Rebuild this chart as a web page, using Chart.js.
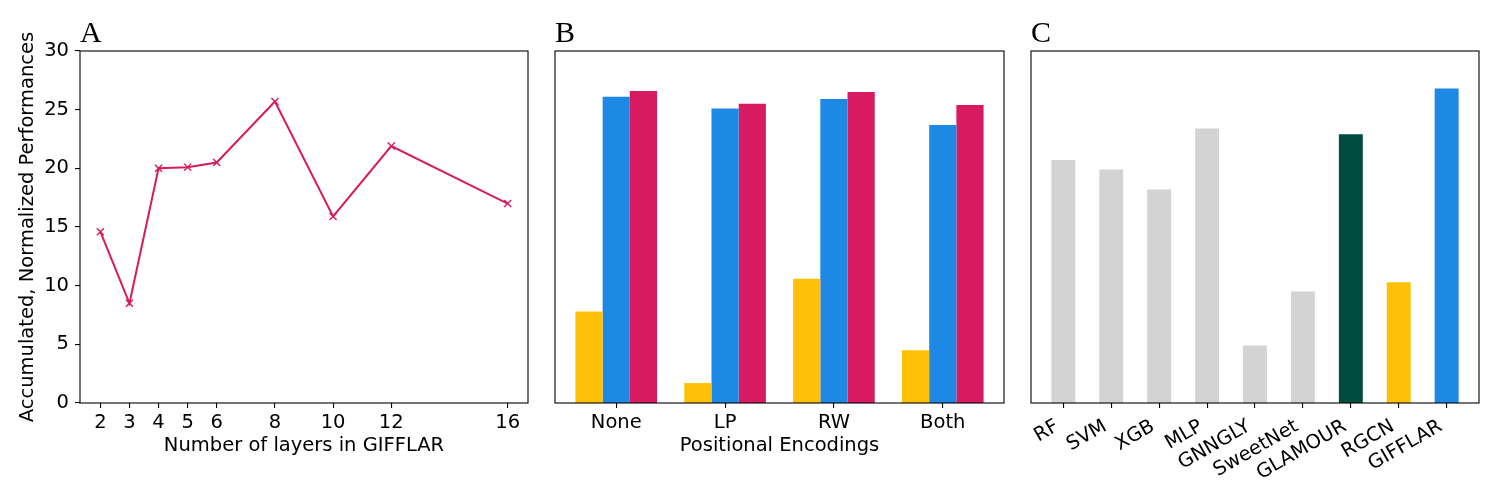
<!DOCTYPE html>
<html>
<head>
<meta charset="utf-8">
<script src="https://cdn.jsdelivr.net/npm/chart.js@4.4.1/dist/chart.umd.min.js"></script>
<style>
  html, body { margin: 0; padding: 0; background: #fff; }
  #wrap { position: relative; width: 1500px; height: 500px; }
  #wrap canvas { position: absolute; left: 0; top: 0; }
</style>
</head>
<body>
<div id="wrap">
  <canvas id="chartA" width="1500" height="500"></canvas>
  <canvas id="chartB" width="1500" height="500"></canvas>
  <canvas id="chartC" width="1500" height="500"></canvas>
</div>
<script>
// Panel A: number of layers
const layers = [2, 3, 4, 5, 6, 8, 10, 12, 16];
const layerScores = [14.6, 8.5, 20.0, 20.1, 20.5, 25.7, 15.9, 21.9, 17.0];

// Panel B: positional encodings
const encodings = ['None', 'LP', 'RW', 'Both'];
const encSeries1 = [7.8, 1.7, 10.6, 4.5];
const encSeries2 = [26.1, 25.1, 25.9, 23.7];
const encSeries3 = [26.6, 25.5, 26.5, 25.4];

// Panel C: models
const models = ['RF', 'SVM', 'XGB', 'MLP', 'GNNGLY', 'SweetNet', 'GLAMOUR', 'RGCN', 'GIFFLAR'];
const modelScores = [20.7, 19.9, 18.2, 23.4, 4.9, 9.5, 22.9, 10.3, 26.8];

const yTicks = [0, 5, 10, 15, 20, 25, 30];

const RED = '#D81B60', BLUE = '#1E88E5', YELLOW = '#FFC107', GREEN = '#004D40', GREY = '#D3D3D3';
const modelColors = [GREY, GREY, GREY, GREY, GREY, GREY, GREEN, YELLOW, BLUE];

Chart.defaults.font.family = "'DejaVu Sans', sans-serif";
Chart.defaults.font.size = 19.5;
Chart.defaults.color = '#000';
Chart.defaults.animation = false;

// frame around the plot area + panel letter
function framePlugin(letter) {
    return {
        id: 'frame' + letter,
        afterDraw(chart) {
            const a = chart.chartArea;
            const ctx = chart.ctx;
            ctx.save();
            ctx.strokeStyle = '#000';
            ctx.lineWidth = 1.1;
            ctx.strokeRect(a.left, a.top, a.right - a.left, a.bottom - a.top);
            ctx.font = "30px 'Liberation Serif', serif";
            ctx.fillStyle = '#000';
            ctx.textBaseline = 'alphabetic';
            ctx.fillText(letter, a.left, 42);
            ctx.restore();
        }
    };
}

const tickGrid = { offset: false, drawOnChartArea: false, drawTicks: true, tickLength: 5, color: '#000', lineWidth: 1.1 };

function fixedHeight(h) { return function (scale) { scale.height = h; }; }

// A
new Chart(document.getElementById('chartA'), {
    type: 'line',
    data: {
        datasets: [{
            data: layers.map((x, i) => ({ x: x, y: layerScores[i] })),
            borderColor: RED,
            backgroundColor: RED,
            borderWidth: 2,
            pointStyle: 'crossRot',
            pointRadius: 5,
            pointBorderWidth: 1.4,
            pointBorderColor: RED,
            tension: 0
        }]
    },
    options: {
        responsive: false,
        layout: { padding: { left: 0, right: 972, top: 51, bottom: 0 } },
        plugins: { legend: { display: false }, tooltip: { enabled: false } },
        scales: {
            x: {
                type: 'linear',
                min: 1.3, max: 16.7,
                afterBuildTicks: function (axis) { axis.ticks = layers.map(v => ({ value: v })); },
                afterFit: fixedHeight(97),
                grid: tickGrid,
                border: { display: false },
                ticks: { autoSkip: false, maxRotation: 0, padding: 3 },
                title: { display: true, text: 'Number of layers in GIFFLAR', padding: { top: 0, bottom: 42 } }
            },
            y: {
                min: 0, max: 30,
                afterBuildTicks: function (axis) { axis.ticks = yTicks.map(v => ({ value: v })); },
                afterFit: function (scale) { scale.width = 80; },
                grid: tickGrid,
                border: { display: false },
                ticks: { padding: 6 },
                title: { display: true, text: 'Accumulated, Normalized Performances', padding: { top: 16, bottom: 0 } }
            }
        }
    },
    plugins: [framePlugin('A')]
});

// B
const encPoints = vals => vals.map((v, i) => ({ x: i, y: v }));
new Chart(document.getElementById('chartB'), {
    type: 'bar',
    data: {
        datasets: [
            { label: 'Series 1', data: encPoints(encSeries1), backgroundColor: YELLOW },
            { label: 'Series 2', data: encPoints(encSeries2), backgroundColor: BLUE },
            { label: 'Series 3', data: encPoints(encSeries3), backgroundColor: RED }
        ]
    },
    options: {
        responsive: false,
        layout: { padding: { left: 555, right: 496, top: 51, bottom: 0 } },
        datasets: { bar: { categoryPercentage: 0.75, barPercentage: 1.0, borderWidth: 0 } },
        plugins: { legend: { display: false }, tooltip: { enabled: false } },
        scales: {
            x: {
                type: 'linear',
                min: -0.5625, max: 3.5625,
                offset: false,
                afterBuildTicks: function (axis) { axis.ticks = encodings.map((_, i) => ({ value: i })); },
                afterFit: fixedHeight(97),
                grid: tickGrid,
                border: { display: false },
                ticks: { autoSkip: false, maxRotation: 0, padding: 3, callback: v => encodings[v] },
                title: { display: true, text: 'Positional Encodings', padding: { top: 0, bottom: 42 } }
            },
            y: { display: false, min: 0, max: 30 }
        }
    },
    plugins: [framePlugin('B')]
});

// C
new Chart(document.getElementById('chartC'), {
    type: 'bar',
    data: {
        datasets: [{
            data: modelScores.map((v, i) => ({ x: i, y: v })),
            backgroundColor: modelColors,
            borderWidth: 0,
            categoryPercentage: 1.0,
            barPercentage: 0.5
        }]
    },
    options: {
        responsive: false,
        layout: { padding: { left: 1031, right: 21, top: 51, bottom: 0 } },
        plugins: { legend: { display: false }, tooltip: { enabled: false } },
        scales: {
            x: {
                type: 'linear',
                min: -0.675, max: 8.675,
                offset: false,
                afterBuildTicks: function (axis) { axis.ticks = models.map((_, i) => ({ value: i })); },
                afterFit: fixedHeight(97),
                grid: tickGrid,
                border: { display: false },
                ticks: { autoSkip: false, minRotation: 30, maxRotation: 30, padding: 7, labelOffset: -6, callback: v => models[v] }
            },
            y: { display: false, min: 0, max: 30 }
        }
    },
    plugins: [framePlugin('C')]
});
</script>
</body>
</html>
